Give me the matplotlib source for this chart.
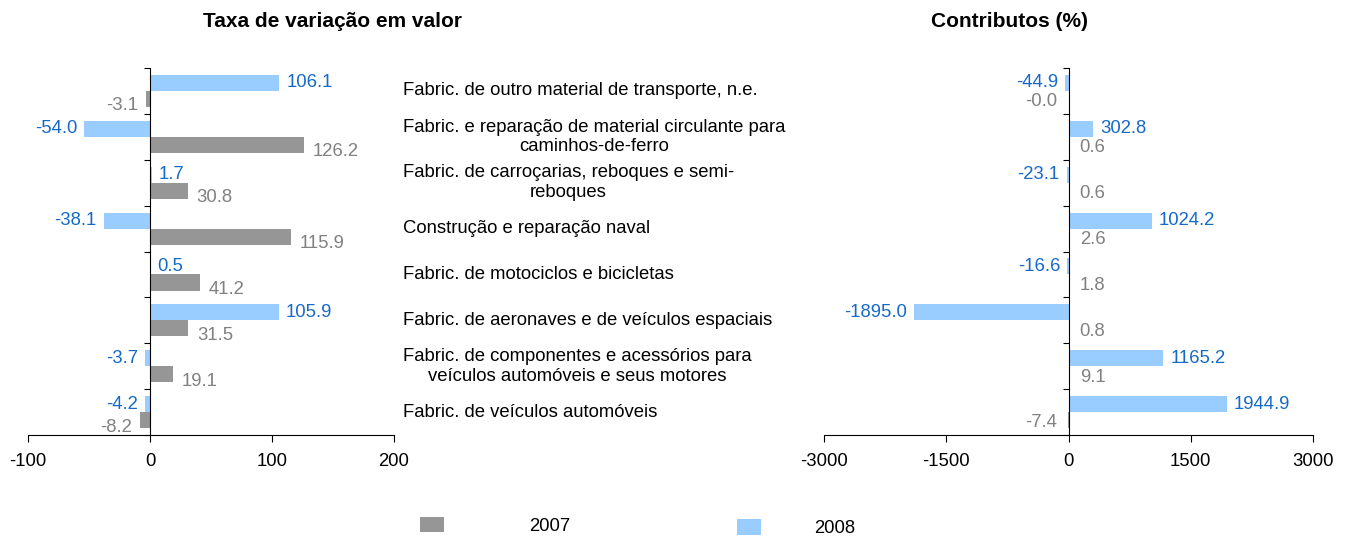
import matplotlib
matplotlib.use("Agg")
import matplotlib.pyplot as plt
import numpy as np

plt.rcParams['font.family'] = ['Liberation Sans', 'DejaVu Sans']

categories = [
    "Fabric. de outro material de transporte, n.e.",
    "Fabric. e reparação de material circulante para\ncaminhos-de-ferro",
    "Fabric. de carroçarias, reboques e semi-\nreboques",
    "Construção e reparação naval",
    "Fabric. de motociclos e bicicletas",
    "Fabric. de aeronaves e de veículos espaciais",
    "Fabric. de componentes e acessórios para\nveículos automóveis e seus motores",
    "Fabric. de veículos automóveis",
]

# taxa de variação em valor (%)
taxa_2007 = [-3.1, 126.2, 30.8, 115.9, 41.2, 31.5, 19.1, -8.2]
taxa_2008 = [106.1, -54.0, 1.7, -38.1, 0.5, 105.9, -3.7, -4.2]

# contributos (%)
contrib_2007 = [-0.0, 0.6, 0.6, 2.6, 1.8, 0.8, 9.1, -7.4]
contrib_2008 = [-44.9, 302.8, -23.1, 1024.2, -16.6, -1895.0, 1165.2, 1944.9]

c07 = '#969696'
c08 = '#99ccff'
lab07 = '#808080'
lab08 = '#1569c7'
fs = 13.3

fig = plt.figure(figsize=(13.46, 5.39), dpi=100)
ax1 = fig.add_axes([0.0208, 0.1929, 0.2719, 0.6809])
ax2 = fig.add_axes([0.6122, 0.1929, 0.3633, 0.6809])

y = np.arange(len(categories))
h = 0.35


def draw(ax, v07, v08, xlim, xticks, pad07, dy07):
    ax.barh(y - h / 2, v08, height=h, color=c08, label='2008')
    ax.barh(y + h / 2, v07, height=h, color=c07, label='2007')
    for i in range(len(y)):
        v = v08[i]
        left = np.signbit(v)
        ax.annotate(f"{v:.1f}", (v, y[i] - h / 2), xytext=(-5 if left else 5, 0),
                    textcoords='offset points', ha='right' if left else 'left',
                    va='center', color=lab08, fontsize=fs)
        v = v07[i]
        left = np.signbit(v)
        ax.annotate(f"{v:.1f}", (v, y[i] + h / 2), xytext=(-pad07 if left else pad07, dy07),
                    textcoords='offset points', ha='right' if left else 'left',
                    va='center', color=lab07, fontsize=fs)
    ax.set_xlim(*xlim)
    ax.set_ylim(len(y) - 0.5, -0.5)
    ax.set_xticks(xticks)
    ax.set_xticklabels([str(t) for t in xticks], fontsize=fs)
    ax.set_yticks(np.arange(len(y) + 1) - 0.5)
    ax.set_yticklabels([])
    ax.spines['left'].set_position(('data', 0))
    ax.spines['top'].set_visible(False)
    ax.spines['right'].set_visible(False)
    ax.tick_params(axis='x', length=5, pad=8, direction='out')
    ax.tick_params(axis='y', length=4, direction='out')


draw(ax1, taxa_2007, taxa_2008, (-100, 200), [-100, 0, 100, 200], 6, -5)
draw(ax2, contrib_2007, contrib_2008, (-3000, 3000), [-3000, -1500, 0, 1500, 3000], 8, -2)

# category labels between the two panels
for i, c in enumerate(categories):
    ax1.annotate(c, (1, y[i]), xycoords=('axes fraction', 'data'),
                 xytext=(403 / 1346, 0), textcoords=('figure fraction', 'offset points'),
                 ha='left', va='center', multialignment='center', fontsize=fs,
                 linespacing=1.2)

fig.text(0.247, 0.960, "Taxa de variação em valor", ha='center', va='center',
         fontsize=15, fontweight='bold')
fig.text(0.750, 0.960, "Contributos (%)", ha='center', va='center',
         fontsize=15, fontweight='bold')

# two separate legend entries, spaced like the original
handles, labels = ax1.get_legend_handles_labels()
fig.legend([handles[1]], [labels[1]], loc='center', bbox_to_anchor=(0.3678, 0.024),
           frameon=False, fontsize=fs, handlelength=1.3, handleheight=0.9,
           handletextpad=4.6)
fig.legend([handles[0]], [labels[0]], loc='center', bbox_to_anchor=(0.5914, 0.020),
           frameon=False, fontsize=fs, handlelength=1.3, handleheight=0.9,
           handletextpad=2.9)

fig.savefig('out.png', dpi=100)
